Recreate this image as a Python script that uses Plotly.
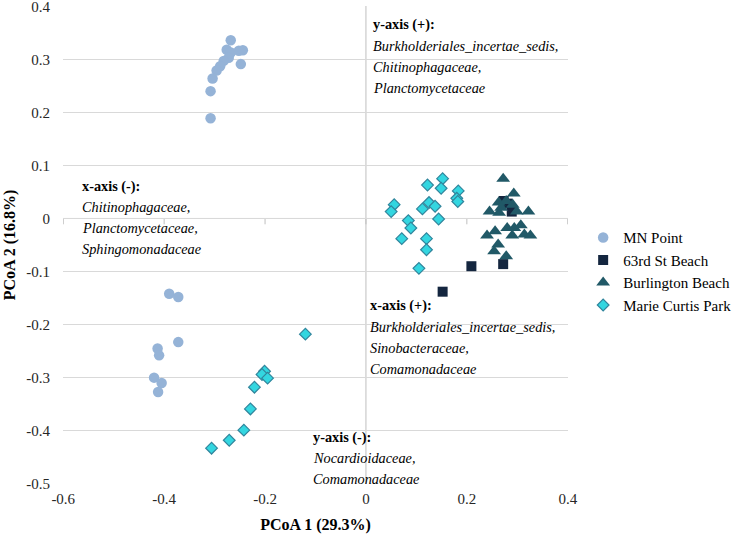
import plotly.graph_objects as go

# ---- data ----
mn_x = [-0.268, -0.276, -0.268, -0.252, -0.244, -0.248, -0.272, -0.282, -0.289, -0.296, -0.304, -0.308, -0.308,
        -0.390, -0.372, -0.372, -0.413, -0.410, -0.420, -0.405, -0.412]
mn_y = [0.336, 0.318, 0.313, 0.316, 0.317, 0.291, 0.303, 0.297, 0.287, 0.279, 0.264, 0.240, 0.189,
        -0.142, -0.148, -0.233, -0.245, -0.258, -0.300, -0.310, -0.327]

st63_x = [0.152, 0.209, 0.272, 0.273, 0.289, 0.281]
st63_y = [-0.138, -0.090, -0.086, 0.033, 0.013, 0.028]

bur_x = [0.272, 0.293, 0.263, 0.278, 0.291, 0.245, 0.264, 0.299, 0.322, 0.280, 0.294, 0.307,
         0.256, 0.240, 0.290, 0.314, 0.326, 0.262, 0.254, 0.278, 0.268]
bur_y = [0.075, 0.047, 0.030, 0.033, 0.026, 0.013, 0.011, 0.013, 0.013, -0.018, -0.018, -0.013,
         -0.024, -0.032, -0.032, -0.030, -0.032, -0.049, -0.062, -0.071, 0.020]

mcp_x = [0.152, 0.122, 0.149, 0.183, 0.180, 0.182, 0.056, 0.050, 0.125, 0.112, 0.137, 0.144,
         0.084, 0.089, 0.071, 0.120, 0.120, 0.105,
         -0.120, -0.201, -0.206, -0.195, -0.221, -0.229, -0.242, -0.271, -0.306]
mcp_y = [0.075, 0.063, 0.057, 0.052, 0.038, 0.032, 0.026, 0.013, 0.030, 0.018, 0.023, -0.001,
         -0.004, -0.018, -0.038, -0.038, -0.059, -0.094,
         -0.218, -0.288, -0.294, -0.301, -0.318, -0.359, -0.399, -0.418, -0.433]

x_ticks = [-0.6, -0.4, -0.2, 0, 0.2, 0.4]
x_labels = ["-0.6", "-0.4", "-0.2", "0", "0.2", "0.4"]
y_ticks = [0.4, 0.3, 0.2, 0.1, 0, -0.1, -0.2, -0.3, -0.4, -0.5]
y_labels = ["0.4", "0.3", "0.2", "0.1", "0", "-0.1", "-0.2", "-0.3", "-0.4", "-0.5"]

notes = [
    ("y-axis (+):", ["Burkholderiales_incertae_sedis,", "Chitinophagaceae,", "Planctomycetaceae"], 0.012, 0.383),
    ("x-axis (-):", ["Chitinophagaceae,", "Planctomycetaceae,", "Sphingomonadaceae"], -0.565, 0.079),
    ("x-axis (+):", ["Burkholderiales_incertae_sedis,", "Sinobacteraceae,", "Comamonadaceae"], 0.006, -0.147),
    ("y-axis (-):", ["Nocardioidaceae,", "Comamonadaceae"], -0.107, -0.394),
]

FONT = "Liberation Serif, Times New Roman, serif"

fig = go.Figure()
fig.add_trace(go.Scatter(x=mn_x, y=mn_y, mode="markers", name="MN Point",
                         marker=dict(symbol="circle", size=10.5, color="#95B3D7")))
fig.add_trace(go.Scatter(x=st63_x, y=st63_y, mode="markers", name="63rd St Beach",
                         marker=dict(symbol="square", size=10, color="#14263F")))
fig.add_trace(go.Scatter(x=bur_x, y=bur_y, mode="markers", name="Burlington Beach",
                         marker=dict(symbol="triangle-up", size=12, color="#215967")))
fig.add_trace(go.Scatter(x=mcp_x, y=mcp_y, mode="markers", name="Marie Curtis Park",
                         marker=dict(symbol="diamond", size=9, color="#33D6E0",
                                     line=dict(color="#31859C", width=1.2))))

# small tick marks on the x-axis (drawn at y=0)
for t in x_ticks:
    fig.add_shape(type="line", x0=t, x1=t, y0=0, y1=-0.011, xref="x", yref="y",
                  line=dict(color="#BFBFBF", width=1), layer="below")

for head, lines, ax, ay in notes:
    rows = ["<b>" + head + "</b>"] + ["<i>" + l + "</i>" for l in lines]
    for i, r in enumerate(rows):
        fig.add_annotation(x=ax, y=ay, xref="x", yref="y", text=r, showarrow=False,
                           xanchor="left", yanchor="top", align="left", yshift=-21.3 * i,
                           borderpad=0,
                           font=dict(family=FONT, size=14.3, color="#000000"))

fig.update_layout(
    width=742, height=539,
    margin=dict(l=63, r=172, t=6, b=55),
    paper_bgcolor="white", plot_bgcolor="white",
    font=dict(family=FONT, size=15, color="#262626"),
    showlegend=True,
    legend=dict(x=1.03, y=0.445, xanchor="left", yanchor="middle",
                font=dict(family=FONT, size=15, color="#000000"),
                itemwidth=30, tracegroupgap=2, bgcolor="rgba(0,0,0,0)"),
    xaxis=dict(range=[-0.6005, 0.4005], tickvals=x_ticks, ticktext=x_labels,
               showgrid=False, zeroline=False, showline=False, ticks="", automargin=False,
               ticklabeloverflow="allow", ticklabelstandoff=4,
               title=dict(text="<b>PCoA 1 (29.3%)</b>", font=dict(family=FONT, size=16, color="#000000"),
                          standoff=12),
               tickfont=dict(family=FONT, size=15, color="#262626")),
    yaxis=dict(range=[-0.5005, 0.4005], tickvals=y_ticks, ticktext=y_labels,
               showgrid=True, gridcolor="#D9D9D9", gridwidth=1,
               zeroline=False, showline=False, ticks="", ticklabelstandoff=12, automargin=False,
               ticklabeloverflow="allow",
               title=dict(text="<b>PCoA 2 (16.8%)</b>", font=dict(family=FONT, size=16, color="#000000"),
                          standoff=6),
               tickfont=dict(family=FONT, size=15, color="#262626")),
)
# vertical zero line (y-axis at x=0) and horizontal axis line at y=0
fig.add_vline(x=0, line=dict(color="#BFBFBF", width=1), layer="below")
fig.add_hline(y=0, line=dict(color="#BFBFBF", width=1), layer="below")

fig.write_html("out.html", config={"displayModeBar": False},
               post_script="document.body.style.margin='0px';document.body.style.padding='0px';")
